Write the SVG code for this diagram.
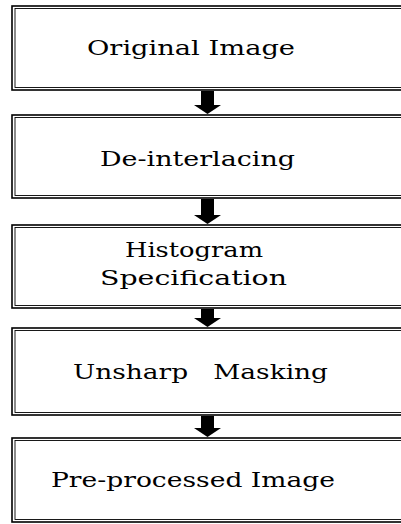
<svg xmlns="http://www.w3.org/2000/svg" width="401" height="524" viewBox="0 0 401 524">
<style>
.outer{fill:none;stroke:#000;stroke-width:1.6}
.inner{fill:none;stroke:#000;stroke-width:0.9}
.lbl{font-family:"DejaVu Serif","Liberation Serif",serif;font-size:21px;fill:#000;white-space:pre}
.arr{fill:#000}
</style>
<rect width="401" height="524" fill="#fff"/>
<g id="n1">
<rect class="outer" x="12" y="6" width="400" height="84"/>
<rect class="inner" x="15" y="8.5" width="395" height="79"/>
<text class="lbl" x="87" y="55" textLength="208" lengthAdjust="spacingAndGlyphs">Original Image</text>
</g>
<g id="n2">
<rect class="outer" x="12" y="115" width="400" height="83"/>
<rect class="inner" x="15" y="117.5" width="395" height="78"/>
<text class="lbl" x="100" y="166" textLength="195" lengthAdjust="spacingAndGlyphs">De-interlacing</text>
</g>
<g id="n3">
<rect class="outer" x="12" y="225" width="400" height="83"/>
<rect class="inner" x="15" y="227.5" width="395" height="78"/>
<text class="lbl" x="125" y="257" textLength="138" lengthAdjust="spacingAndGlyphs">Histogram</text>
<text class="lbl" x="100" y="285" textLength="187" lengthAdjust="spacingAndGlyphs">Specification</text>
</g>
<g id="n4">
<rect class="outer" x="12" y="328" width="400" height="87"/>
<rect class="inner" x="15" y="330.5" width="395" height="82"/>
<text class="lbl" x="73" y="379" textLength="255" lengthAdjust="spacingAndGlyphs">Unsharp   Masking</text>
</g>
<g id="n5">
<rect class="outer" x="12" y="438" width="400" height="84"/>
<rect class="inner" x="15" y="440.5" width="395" height="79"/>
<text class="lbl" x="51" y="487" textLength="284" lengthAdjust="spacingAndGlyphs">Pre-processed Image</text>
</g>
<g id="connectors">
<polygon class="arr" points="201,91 214,91 214,105 221,105 207.5,114 194,105 201,105"/>
<polygon class="arr" points="201,199 214,199 214,215 221,215 207.5,224 194,215 201,215"/>
<polygon class="arr" points="201,309 214,309 214,318 221,318 207.5,327 194,318 201,318"/>
<polygon class="arr" points="201,416 214,416 214,428 221,428 207.5,437 194,428 201,428"/>
</g>
</svg>
